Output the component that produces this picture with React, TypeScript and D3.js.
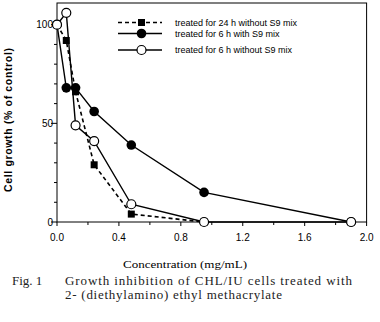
import React from "react";
import * as d3 from "d3";

const concentrations = [0, 0.06, 0.12, 0.24, 0.48, 0.95, 1.9];
const growth24hNoS9 = [100, 92, 66, 29, 4, 0];
const growth6hWithS9 = [100, 68, 68, 56, 39, 15, 0];
const growth6hNoS9 = [100, 106, 49, 41, 9, 0, 0];
const xTickLabels = [0, 0.4, 0.8, 1.2, 1.6, 2.0];
const xMinorTicks = [0.2, 0.6, 1.0, 1.4, 1.8];
const yTickLabels = [0, 50, 100];
const yMinorTicks = [10, 20, 30, 40, 60, 70, 80, 90];
const legendLabels = [
  "treated for 24 h without S9 mix",
  "treated for 6 h with S9 mix",
  "treated for 6 h without S9 mix",
];

const W = 380;
const H = 322;

export default function App() {
  const x = d3.scaleLinear().domain([0, 2]).range([57, 366.6]);
  const y = d3.scaleLinear().domain([0, 111]).range([222, 3]);

  const mk = (vals: number[]) => vals.map((v, i) => [concentrations[i], v] as [number, number]);
  const d24 = mk(growth24hNoS9);
  const dWith = mk(growth6hWithS9);
  const dWithout = mk(growth6hNoS9);

  const line = d3
    .line<[number, number]>()
    .x((d) => x(d[0]))
    .y((d) => y(d[1]));

  const sans = "'Liberation Sans', Arial, sans-serif";
  const serif = "'Liberation Serif', 'Times New Roman', serif";

  const legendY = [22.5, 33.5, 50];

  return (
    <svg
      width={W}
      height={H}
      style={{ position: "absolute", left: 0, top: 0, background: "#fff" }}
    >
      <rect x={0} y={0} width={W} height={H} fill="#fff" />
      {/* frame */}
      <rect
        x={x(0)}
        y={y(111)}
        width={x(2) - x(0)}
        height={y(0) - y(111)}
        fill="none"
        stroke="#000"
        strokeWidth={1}
      />
      {/* y ticks */}
      {yTickLabels.map((t) => (
        <g key={"yt" + t}>
          <line x1={x(0) - 6} x2={x(0)} y1={y(t)} y2={y(t)} stroke="#000" strokeWidth={1} />
          <text
            x={x(0) - 4}
            y={y(t) + 3.5}
            textAnchor="end"
            fontFamily={sans}
            fontSize={10}
            fill="#000"
          >
            {t}
          </text>
        </g>
      ))}
      {yMinorTicks.map((t) => (
        <line key={"ym" + t} x1={x(0) - 3} x2={x(0)} y1={y(t)} y2={y(t)} stroke="#000" strokeWidth={1} />
      ))}
      {/* x ticks */}
      {xTickLabels.map((t) => (
        <g key={"xt" + t}>
          <line x1={x(t)} x2={x(t)} y1={y(0)} y2={y(0) + 4} stroke="#000" strokeWidth={1} />
          <text
            x={x(t)}
            y={241}
            textAnchor="middle"
            fontFamily={sans}
            fontSize={10}
            fill="#000"
          >
            {t.toFixed(1)}
          </text>
        </g>
      ))}
      {xMinorTicks.map((t) => (
        <line key={"xm" + t} x1={x(t)} x2={x(t)} y1={y(0)} y2={y(0) + 3} stroke="#000" strokeWidth={1} />
      ))}
      {/* axis titles */}
      <text
        transform={`translate(12,120) rotate(-90)`}
        textAnchor="middle"
        fontFamily={sans}
        fontWeight="bold"
        fontSize={10.5}
        textLength={144}
        lengthAdjust="spacing"
        fill="#000"
      >
        Cell growth (% of control)
      </text>
      <text
        x={185}
        y={268}
        textAnchor="middle"
        fontFamily={serif}
        fontSize={9.5}
        textLength={124}
        lengthAdjust="spacingAndGlyphs"
        fill="#000"
      >
        Concentration (mg/mL)
      </text>
      {/* series lines */}
      <path d={line(d24) || ""} fill="none" stroke="#000" strokeWidth={1.6} strokeDasharray="4,3" />
      <path d={line(dWith) || ""} fill="none" stroke="#000" strokeWidth={1.4} />
      <path d={line(dWithout) || ""} fill="none" stroke="#000" strokeWidth={1.4} />
      {/* markers */}
      {d24.map((d, i) => (
        <rect key={"s" + i} x={x(d[0]) - 3.5} y={y(d[1]) - 3.5} width={7} height={7} fill="#000" />
      ))}
      {dWith.map((d, i) => (
        <circle key={"f" + i} cx={x(d[0])} cy={y(d[1])} r={4.8} fill="#000" />
      ))}
      {dWithout.map((d, i) => (
        <circle key={"o" + i} cx={x(d[0])} cy={y(d[1])} r={4.5} fill="#fff" stroke="#000" strokeWidth={1.2} />
      ))}
      {/* legend */}
      <g>
        <line x1={118} x2={162} y1={legendY[0]} y2={legendY[0]} stroke="#000" strokeWidth={1.6} strokeDasharray="4,3" />
        <rect x={141.5 - 3.5} y={legendY[0] - 3.5} width={7} height={7} fill="#000" />
        <line x1={118} x2={162} y1={legendY[1]} y2={legendY[1]} stroke="#000" strokeWidth={1.4} />
        <circle cx={141.5} cy={legendY[1]} r={4.8} fill="#000" />
        <line x1={118} x2={162} y1={legendY[2]} y2={legendY[2]} stroke="#000" strokeWidth={1.4} />
        <circle cx={141.5} cy={legendY[2]} r={4.5} fill="#fff" stroke="#000" strokeWidth={1.2} />
        {legendLabels.map((l, i) => (
          <text
            key={l}
            x={175}
            y={legendY[i] + 3.2}
            fontFamily={sans}
            fontSize={9}
            fill="#000"
          >
            {l}
          </text>
        ))}
      </g>
      {/* caption */}
      <text x={12} y={285} fontFamily={serif} fontSize={13} fill="#222">
        Fig. 1
      </text>
      <text x={65} y={285} fontFamily={serif} fontSize={13} textLength={287} lengthAdjust="spacing" fill="#222">
        Growth inhibition of CHL/IU cells treated with
      </text>
      <text x={65} y={299} fontFamily={serif} fontSize={13} textLength={217} lengthAdjust="spacing" fill="#222">
        2- (diethylamino) ethyl methacrylate
      </text>
    </svg>
  );
}
